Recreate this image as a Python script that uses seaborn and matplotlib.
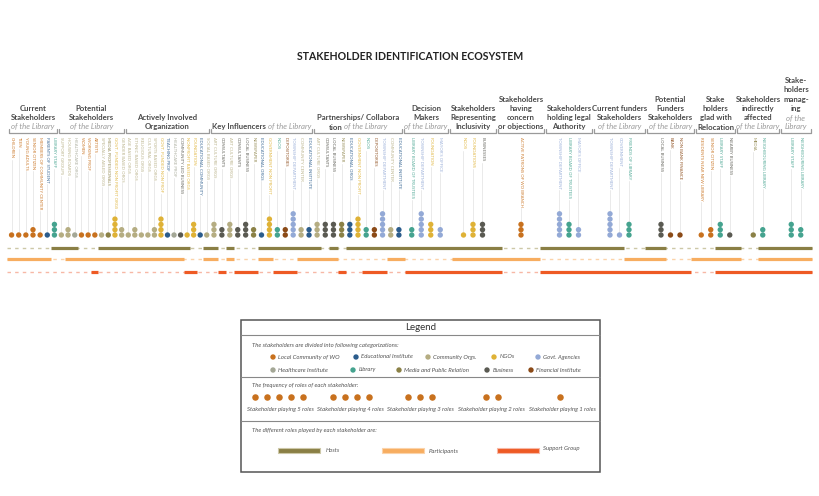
import numpy as np
import pandas as pd
import seaborn as sns
import matplotlib.pyplot as plt
from matplotlib.patches import Rectangle

# Section headers
section_titles = [
    "Current\nStakeholders", "Potential\nStakeholders", "Actively Involved\nOrganization",
    "Key Influencers", "Partnerships/ Collabora\ntion", "Decision\nMakers",
    "Stakeholders\nRepresenting\nInclusivity", "Stakeholders\nhaving\nconcern\nor objections",
    "Stakeholders\nholding legal\nAuthority", "Current funders\nStakeholders",
    "Potential\nFunders\nStakeholders", "Stake\nholders\nglad with\nRelocation",
    "Stakeholders\nindirectly\naffected", "Stake-\nholders\nmanag-\ning",
]
section_subtitles = [
    "of the Library", "of the Library", "", "of the Library", "of the Library", "of the Library",
    "", "", "", "of the Library", "of the Library", "", "of the Library", "of the\nLibrary",
]
subtitle_inline = [False, False, False, True, True, False, False, False, False,
                   False, False, False, False, False]

# Stakeholders of each section
stakeholder_names = [
    ["CHILDREN", "TEEN", "YOUNG ADULTS", "SENIOR CITIZEN", "MEMBERS OF COMMUNITY CENTER",
     "PARENTS OF STUDENT", "LIBRARY STAFF"],
    ["SUPPORT GROUPS", "HOUSING BOARDS", "HEALTHCARE ORGS", "WOMEN", "WORKING PROF", "ARTISTS",
     "SPECIALLY ABLED ORGS", "MEDIA PROFESSIONALS", "GOVT. FUNDED NON PROFIT ORGS",
     "GENDER BASED ORGS"],
    ["AGE BASED ORGS", "ETHNIC BASED ORGS", "RELIGIOUS ORGS", "CULTURAL ORGS", "SPORTS BASED ORGS",
     "GOVT. FUNDED NON PROF", "TEACHING PROF", "HEALTHCARE PROF", "COMMUNITY LED BUSINESS",
     "NONPROFIT BASED ORGS", "FOUNDATION", "EDUCATIONAL COMMUNITY", "SOCIAL BASED ORGS"],
    ["ART CULTURE ORGS", "CONSULTANTS", "ART CULTURE ORGS", "CONSULTANTS", "LOCAL BUSINESS",
     "NEWSPAPER", "EDUCATIONAL ORGS", "GOVERNMENT NON PROFIT", "NGOS", "DEPOSITORIES",
     "TOWNSHIP DEPARTMENT", "COMMUNITY CENTER", "EDUCATIONAL INSTITUTE"],
    ["ART CULTURE ORGS", "CONSULTANTS", "LOCAL BUSINESS", "NEWSPAPER", "EDUCATIONAL ORGS",
     "GOVERNMENT NON PROFIT", "NGOS", "DEPOSITORIES", "TOWNSHIP DEPARTMENT", "COMMUNITY CENTER",
     "EDUCATIONAL INSTITUTE"],
    ["LIBRARY BOARD OF TRUSTEES", "TOWNSHIP DEPARTMENT", "FOUNDATION", "MAYOR'S OFFICE"],
    ["NGOS", "FOUNDATIONS", "BUSINESSES"],
    ["ACTIVE PATRONS OF WO BRANCH"],
    ["TOWNSHIP DEPARTMENT", "LIBRARY BOARD OF TRUSTEES", "MAYOR'S OFFICE"],
    ["TOWNSHIP DEPARTMENT", "GOVERNMENT", "FRIENDS OF LIBRARY"],
    ["LOCAL BUSINESS", "BANK", "NON BANK FINANCE"],
    ["RESIDENTS NEAR NEW LIBRARY", "SENIOR CITIZEN", "LIBRARY STAFF", "NEARBY BUSINESS"],
    ["MEDIA", "NEIGHBOURING LIBRARY"],
    ["LIBRARY STAFF", "NEIGHBOURING LIBRARY"],
]
# LC local community, EI educational, CO community orgs, NG NGOs, GA govt agencies,
# HI healthcare, LB library, MP media, BU business, FI financial
stakeholder_groups = [
    ["LC", "LC", "LC", "LC", "LC", "EI", "LB"],
    ["CO", "CO", "HI", "LC", "LC", "LC", "CO", "MP", "NG", "CO"],
    ["CO", "CO", "CO", "CO", "CO", "NG", "EI", "HI", "BU", "NG", "NG", "EI", "CO"],
    ["CO", "BU", "CO", "BU", "BU", "MP", "EI", "NG", "LB", "FI", "GA", "CO", "EI"],
    ["CO", "BU", "BU", "MP", "EI", "NG", "LB", "FI", "GA", "CO", "EI"],
    ["LB", "GA", "NG", "GA"],
    ["NG", "NG", "BU"],
    ["LC"],
    ["GA", "LB", "GA"],
    ["GA", "GA", "LB"],
    ["BU", "FI", "FI"],
    ["LC", "LC", "LB", "BU"],
    ["MP", "LB"],
    ["LB", "LB"],
]
role_counts = [
    [1, 1, 1, 2, 1, 1, 3],
    [1, 2, 1, 1, 1, 1, 1, 1, 4, 2],
    [1, 2, 1, 1, 2, 4, 1, 1, 1, 1, 3, 1, 1],
    [3, 2, 3, 2, 3, 2, 1, 4, 2, 2, 5, 2, 2],
    [3, 3, 3, 3, 3, 4, 2, 2, 5, 2, 2],
    [2, 5, 3, 2],
    [1, 3, 3],
    [3],
    [5, 3, 2],
    [5, 1, 3],
    [3, 1, 1],
    [1, 2, 3, 1],
    [1, 2],
    [3, 2],
]
is_host = [
    [0, 0, 0, 0, 0, 0, 1],
    [1, 1, 1, 0, 0, 0, 1, 1, 1, 1],
    [1, 1, 1, 1, 1, 1, 1, 1, 1, 1, 0, 0, 1],
    [1, 0, 1, 0, 0, 0, 1, 1, 1, 1, 1, 1, 1],
    [1, 0, 1, 0, 1, 1, 1, 1, 1, 1, 1],
    [1, 1, 1, 1], [1, 1, 1], [0], [1, 1, 1], [1, 1, 0], [1, 0, 0],
    [0, 0, 1, 1], [0, 1], [1, 1],
]
is_participant = [
    [1, 1, 1, 1, 1, 1, 0],
    [0, 1, 1, 1, 1, 1, 1, 1, 1, 1],
    [1, 1, 1, 1, 1, 1, 1, 1, 1, 0, 0, 0, 1],
    [1, 0, 1, 0, 0, 0, 1, 1, 0, 0, 0, 1, 1],
    [1, 1, 1, 0, 0, 0, 0, 0, 0, 1, 1],
    [0, 0, 0, 0], [1, 1, 1], [1], [0, 0, 0], [0, 0, 1], [1, 0, 0],
    [1, 1, 1, 1], [0, 1], [1, 1],
]
is_support = [
    [0, 0, 0, 0, 0, 0, 0],
    [0, 0, 0, 0, 0, 1, 0, 0, 0, 0],
    [0, 0, 0, 0, 0, 0, 0, 0, 0, 1, 1, 0, 0],
    [0, 1, 0, 1, 1, 1, 0, 0, 1, 1, 1, 0, 0],
    [0, 0, 0, 1, 0, 0, 1, 1, 1, 0, 0],
    [1, 1, 1, 1], [1, 1, 1], [0], [1, 1, 1], [1, 1, 1], [1, 1, 1],
    [0, 0, 1, 1], [1, 1], [1, 1],
]

group_names = {
    "LC": "Local Community of WO", "EI": "Educational Institute", "CO": "Community Orgs.",
    "NG": "NGOs", "GA": "Govt. Agencies", "HI": "Healthcare Institute", "LB": "Library",
    "MP": "Media and Public Relation", "BU": "Business", "FI": "Financial Institute",
}
palette = {
    "Local Community of WO": "#c8711e", "Educational Institute": "#2b5c8c",
    "Community Orgs.": "#b5ad82", "NGOs": "#dfb236", "Govt. Agencies": "#93a9d6",
    "Healthcare Institute": "#a4a796", "Library": "#45a38f",
    "Media and Public Relation": "#8b8146", "Business": "#5a5a52",
    "Financial Institute": "#8b4a17",
}
roles = ["Hosts", "Participants", "Support Group"]
role_colors = {"Hosts": "#8a7f45", "Participants": "#f7ad60", "Support Group": "#ee5a24"}
role_dash_colors = {"Hosts": "#cdc8a8", "Participants": "#fbd3aa", "Support Group": "#f7b8a6"}

# layout (pixel units, axes spans the whole figure)
W, H = 820, 496
SECTION_EDGES = [8, 58, 125, 210, 313, 403, 449, 497, 545, 593, 646, 695, 736, 780, 812]
BRACKET_Y = 133
LABEL_TOP = 137
DOT_Y = 235
DOT_STEP = 5.3
ROLE_Y = {"Hosts": 248, "Participants": 259, "Support Group": 272}
HEAD_BASE = 129.5
LINE_H = 9.3
HEAD_FS = 5.6

sns.set_theme(style="white")
plt.rcParams["font.family"] = ["Lato", "DejaVu Sans"]

fig = plt.figure(figsize=(8.2, 4.96), dpi=100)
ax = fig.add_axes([0, 0, 1, 1])

# build the table of stakeholders
rows = []
for s, names in enumerate(stakeholder_names):
    a, b = SECTION_EDGES[s], SECTION_EDGES[s + 1]
    n = len(names)
    step = min((b - a) / n, 9.5)
    c = (a + b) / 2
    for i, name in enumerate(names):
        rows.append(dict(section=s, name=name,
                         group=group_names[stakeholder_groups[s][i]],
                         count=role_counts[s][i],
                         Hosts=is_host[s][i], Participants=is_participant[s][i],
                         **{"Support Group": is_support[s][i]},
                         x=c + (i - (n - 1) / 2) * step))
df = pd.DataFrame(rows)

dots = df.loc[df.index.repeat(df["count"])].copy()
dots["level"] = dots.groupby(level=0).cumcount()
dots["y"] = DOT_Y - dots["level"] * DOT_STEP

sns.scatterplot(data=dots, x="x", y="y", hue="group", palette=palette, s=15,
                linewidth=0, legend=False, ax=ax, zorder=3)

# role bars
xs = df["x"].to_numpy()
edges = np.concatenate([[7], (xs[1:] + xs[:-1]) / 2, [SECTION_EDGES[-1]]])
for role in roles:
    y = ROLE_Y[role]
    ax.plot([7, SECTION_EDGES[-1]], [y, y], color=role_dash_colors[role], lw=1,
            ls=(0, (2.5, 3)), zorder=1)
    flags = df[role].to_numpy().astype(bool)
    i = 0
    while i < len(flags):
        if flags[i]:
            j = i
            while j + 1 < len(flags) and flags[j + 1]:
                j += 1
            ax.plot([edges[i], edges[j + 1]], [y, y], color=role_colors[role], lw=2.3,
                    solid_capstyle="butt", zorder=2)
            i = j + 1
        else:
            i += 1

# stakeholder labels
labels = []
for _, r in df.iterrows():
    t = ax.text(r["x"], LABEL_TOP, r["name"], rotation=270, ha="center", va="top",
                fontsize=3.1, color=palette[r["group"]], alpha=0.9)
    labels.append((r["x"], t))

# brackets + headers
mixed = []
for s, title in enumerate(section_titles):
    a, b = SECTION_EDGES[s] + 1, SECTION_EDGES[s + 1] - 1
    ax.plot([a, a, b, b], [BRACKET_Y - 4, BRACKET_Y, BRACKET_Y, BRACKET_Y - 4],
            color="#9a9a9a", lw=0.9, zorder=1)
    cx = (SECTION_EDGES[s] + SECTION_EDGES[s + 1]) / 2
    lines = [(t, "bold") for t in title.split("\n")]
    sub = section_subtitles[s]
    if sub and not subtitle_inline[s]:
        lines += [(t, "italic") for t in sub.split("\n")]
    for k, (t, style) in enumerate(reversed(lines)):
        y = HEAD_BASE - k * LINE_H
        if k == 0 and sub and subtitle_inline[s]:
            t1 = ax.text(cx, y, t, fontsize=HEAD_FS, fontweight="bold", color="#4a4a4a",
                         ha="left", va="baseline")
            t2 = ax.text(cx, y, sub, fontsize=HEAD_FS, style="italic", color="#9a9a9a",
                         ha="left", va="baseline")
            mixed.append((cx, t1, t2))
        elif style == "bold":
            ax.text(cx, y, t, fontsize=HEAD_FS, fontweight="bold", color="#4a4a4a",
                    ha="center", va="baseline")
        else:
            ax.text(cx, y, t, fontsize=HEAD_FS, style="italic", color="#9a9a9a",
                    ha="center", va="baseline")

ax.text(W / 2, 57, "STAKEHOLDER IDENTIFICATION ECOSYSTEM", ha="center", va="center",
        fontsize=7.6, fontweight="bold", color="#222222")

# legend box
LX0, LX1, LY0, LY1 = 241, 600, 320, 472
ax.add_patch(Rectangle((LX0, LY0), LX1 - LX0, LY1 - LY0, fill=False,
                       edgecolor="#555555", lw=1.1))
for yy in [335, 377, 421]:
    ax.plot([LX0, LX1], [yy, yy], color="#888888", lw=0.8)
ax.text((LX0 + LX1) / 2, 328, "Legend", ha="center", va="center", fontsize=7, color="#333333")

leg_kw = dict(fontsize=4.3, style="italic", color="#555555", va="center")
ax.text(252, 345, "The stakeholders are divided into following categorizations:", **leg_kw)
legend_order = list(palette.keys())
legend_x = [273, 356, 428, 494, 538, 273, 353, 399, 487, 531]
legend_y = [357] * 5 + [370] * 5
ax.scatter(legend_x, legend_y, s=15, c=[palette[g] for g in legend_order], linewidths=0)
for g, lx, ly in zip(legend_order, legend_x, legend_y):
    ax.text(lx + 5.5, ly, g, **leg_kw)

ax.text(252, 385, "The frequency of roles of each stakeholder:", **leg_kw)
freq_start = [255, 333, 408, 486, 560]
freq_label_x = [280, 350, 420, 491, 562]
for n, fx, tx in zip([5, 4, 3, 2, 1], freq_start, freq_label_x):
    ax.scatter(fx + 12 * np.arange(n), [397] * n, s=22, color=palette["Local Community of WO"],
               linewidths=0)
    ax.text(tx, 409, f"Stakeholder playing {n} roles", ha="center", fontsize=4.3,
            style="italic", color="#555555", va="center")

ax.text(252, 430, "The different roles played by each stakeholder are:", **leg_kw)
for role, bx, tx in zip(roles, [278, 382, 497], [326, 429, 543]):
    ax.add_patch(Rectangle((bx, 447.5), 42, 5, facecolor=role_colors[role],
                           edgecolor=role_dash_colors[role], lw=0.8))
    ax.text(tx, 451 if role != "Support Group" else 448, role, **leg_kw)

ax.set_xlim(0, W)
ax.set_ylim(H, 0)
ax.axis("off")

# measure text to place stems and mixed header lines
fig.canvas.draw()
rend = fig.canvas.get_renderer()
inv = ax.transData.inverted()
for x, t in labels:
    bb = t.get_window_extent(rend)
    y_end = inv.transform((0, bb.y0))[1]
    ax.plot([x, x], [y_end + 1.5, DOT_Y], color="#e6e6e6", lw=0.6, zorder=1)
for cx, t1, t2 in mixed:
    w1 = t1.get_window_extent(rend).width
    w2 = t2.get_window_extent(rend).width
    x0 = cx - (w1 + w2 + 2) / 2
    t1.set_x(x0)
    t2.set_x(x0 + w1 + 2)

fig.savefig("out.png", dpi=100)
